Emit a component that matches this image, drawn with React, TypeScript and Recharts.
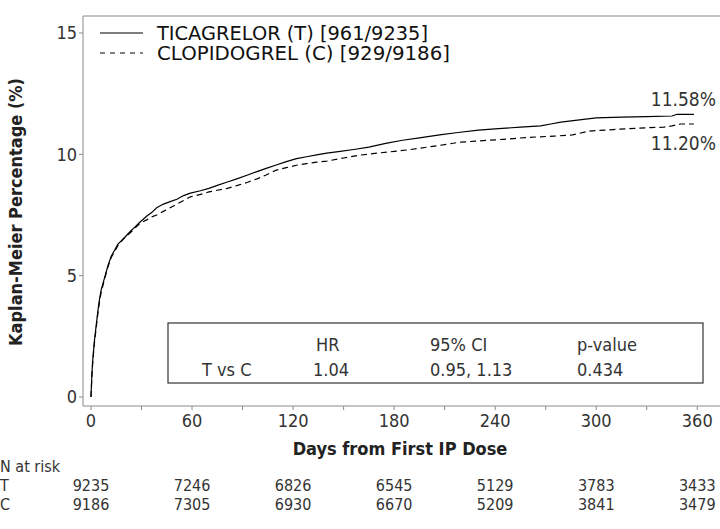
import React from 'react'
import { LineChart, Line, XAxis, YAxis, ReferenceLine } from 'recharts'

// Kaplan-Meier cumulative event % by day
const ticagrelor = [
  { day: 0, pct: 0 }, { day: 0.5, pct: 0.9 }, { day: 1, pct: 1.5 }, { day: 2, pct: 2.3 },
  { day: 3, pct: 2.9 }, { day: 4, pct: 3.5 }, { day: 5, pct: 4.0 }, { day: 6, pct: 4.4 },
  { day: 8, pct: 4.9 }, { day: 10, pct: 5.4 }, { day: 12, pct: 5.8 }, { day: 14, pct: 6.05 },
  { day: 16, pct: 6.3 }, { day: 19, pct: 6.5 }, { day: 23, pct: 6.8 }, { day: 26, pct: 7.0 },
  { day: 29, pct: 7.2 }, { day: 33, pct: 7.45 }, { day: 36, pct: 7.6 }, { day: 39, pct: 7.8 },
  { day: 43, pct: 7.95 }, { day: 47, pct: 8.05 }, { day: 51, pct: 8.15 }, { day: 55, pct: 8.3 },
  { day: 59, pct: 8.4 }, { day: 65, pct: 8.5 }, { day: 70, pct: 8.6 }, { day: 75, pct: 8.72 },
  { day: 81, pct: 8.86 }, { day: 87, pct: 9.0 }, { day: 93, pct: 9.15 }, { day: 99, pct: 9.3 },
  { day: 104, pct: 9.42 }, { day: 110, pct: 9.56 }, { day: 116, pct: 9.7 }, { day: 122, pct: 9.82 },
  { day: 128, pct: 9.9 }, { day: 134, pct: 9.98 }, { day: 140, pct: 10.05 }, { day: 148, pct: 10.12 },
  { day: 156, pct: 10.2 }, { day: 165, pct: 10.3 }, { day: 175, pct: 10.45 }, { day: 185, pct: 10.58 },
  { day: 195, pct: 10.68 }, { day: 207, pct: 10.8 }, { day: 218, pct: 10.9 }, { day: 230, pct: 11.0 },
  { day: 242, pct: 11.06 }, { day: 255, pct: 11.12 }, { day: 267, pct: 11.17 }, { day: 273, pct: 11.25 },
  { day: 279, pct: 11.33 }, { day: 290, pct: 11.42 }, { day: 300, pct: 11.5 }, { day: 315, pct: 11.53 },
  { day: 330, pct: 11.55 }, { day: 345, pct: 11.58 }, { day: 348, pct: 11.65 }, { day: 358, pct: 11.65 },
]

const clopidogrel = [
  { day: 0, pct: 0 }, { day: 0.5, pct: 0.8 }, { day: 1, pct: 1.4 }, { day: 2, pct: 2.2 },
  { day: 3, pct: 2.8 }, { day: 4, pct: 3.4 }, { day: 5, pct: 3.9 }, { day: 6, pct: 4.3 },
  { day: 8, pct: 4.85 }, { day: 10, pct: 5.35 }, { day: 12, pct: 5.75 }, { day: 14, pct: 6.0 },
  { day: 16, pct: 6.25 }, { day: 19, pct: 6.5 }, { day: 23, pct: 6.75 }, { day: 26, pct: 6.95 },
  { day: 29, pct: 7.15 }, { day: 33, pct: 7.3 }, { day: 36, pct: 7.42 }, { day: 39, pct: 7.5 },
  { day: 43, pct: 7.65 }, { day: 47, pct: 7.8 }, { day: 51, pct: 7.95 }, { day: 55, pct: 8.1 },
  { day: 59, pct: 8.25 }, { day: 65, pct: 8.35 }, { day: 70, pct: 8.45 }, { day: 75, pct: 8.52 },
  { day: 81, pct: 8.6 }, { day: 87, pct: 8.72 }, { day: 93, pct: 8.85 }, { day: 99, pct: 9.0 },
  { day: 104, pct: 9.15 }, { day: 110, pct: 9.35 }, { day: 116, pct: 9.45 }, { day: 122, pct: 9.55 },
  { day: 128, pct: 9.62 }, { day: 134, pct: 9.68 }, { day: 140, pct: 9.72 }, { day: 150, pct: 9.85 },
  { day: 160, pct: 9.97 }, { day: 170, pct: 10.05 }, { day: 180, pct: 10.12 }, { day: 190, pct: 10.2 },
  { day: 200, pct: 10.3 }, { day: 210, pct: 10.4 }, { day: 219, pct: 10.5 }, { day: 230, pct: 10.55 },
  { day: 245, pct: 10.62 }, { day: 260, pct: 10.7 }, { day: 275, pct: 10.75 }, { day: 286, pct: 10.8 },
  { day: 296, pct: 10.96 }, { day: 310, pct: 11.02 }, { day: 325, pct: 11.08 }, { day: 340, pct: 11.12 },
  { day: 345, pct: 11.17 }, { day: 350, pct: 11.25 }, { day: 358, pct: 11.25 },
]

const xTicks = [0, 30, 60, 90, 120, 150, 180, 210, 240, 270, 300, 330, 360]
const yTicks = [0, 5, 10, 15]
const riskDays = [0, 60, 120, 180, 240, 300, 360]
const riskT = [9235, 7246, 6826, 6545, 5129, 3783, 3433]
const riskC = [9186, 7305, 6930, 6670, 5209, 3841, 3479]
const legendLabels = ['TICAGRELOR (T) [961/9235]', 'CLOPIDOGREL (C) [929/9186]']
const statHeaders = ['HR', '95% CI', 'p-value']
const statValues = ['1.04', '0.95, 1.13', '0.434']
const endLabels = ['11.58%', '11.20%']

const W = 720
const H = 529
const X_MIN = -4.75
const X_MAX = 373.5
const PLOT_LEFT = 83
const PLOT_RIGHT = 720
const xPx = (d: number) => PLOT_LEFT + ((d - X_MIN) / (X_MAX - X_MIN)) * (PLOT_RIGHT - PLOT_LEFT)

const FONT = "'DejaVu Sans Condensed', 'Liberation Sans Narrow', sans-serif"
const AXIS = '#8a8a8a'
const TEXT = '#333'

const App = () => {
  return (
    <div style={{ position: 'absolute', left: 0, top: 0, width: W, height: H, background: '#fff' }}>
      <LineChart width={W} height={H} margin={{ top: 16, right: 0, left: 43, bottom: 93 }}>
        <XAxis
          type="number"
          dataKey="day"
          domain={[X_MIN, X_MAX]}
          ticks={xTicks}
          allowDataOverflow
          tickFormatter={(v: number) => (v % 60 === 0 ? String(v) : '')}
          tick={{ fill: TEXT, fontSize: 18, fontFamily: FONT }}
          stroke={AXIS}
          tickSize={4}
          tickMargin={4}
          height={30}
        />
        <YAxis
          type="number"
          domain={[-0.37, 15.7]}
          ticks={yTicks}
          allowDataOverflow
          tick={{ fill: TEXT, fontSize: 18, fontFamily: FONT }}
          stroke={AXIS}
          tickSize={4}
          tickMargin={2}
          width={40}
        />
        <ReferenceLine y={15.7} stroke={AXIS} strokeWidth={1.2} />
        <Line
          data={ticagrelor}
          dataKey="pct"
          type="linear"
          stroke="#000"
          strokeWidth={1.2}
          dot={false}
          isAnimationActive={false}
        />
        <Line
          data={clopidogrel}
          dataKey="pct"
          type="linear"
          stroke="#000"
          strokeWidth={1.2}
          strokeDasharray="6 4"
          dot={false}
          isAnimationActive={false}
        />
      </LineChart>

      <svg
        width={W}
        height={H}
        style={{ position: 'absolute', left: 0, top: 0, pointerEvents: 'none' }}
        fontFamily={FONT}
      >
        {/* legend */}
        <line x1={100} x2={143} y1={33} y2={33} stroke="#000" strokeWidth={1.2} />
        <line x1={100} x2={143} y1={53} y2={53} stroke="#000" strokeWidth={1.2} strokeDasharray="5 5" />
        <text x={157} y={40} fontSize={19} fontFamily="'DejaVu Sans', sans-serif" fill="#111"
          textLength={271} lengthAdjust="spacingAndGlyphs">{legendLabels[0]}</text>
        <text x={157} y={60} fontSize={19} fontFamily="'DejaVu Sans', sans-serif" fill="#111"
          textLength={293} lengthAdjust="spacingAndGlyphs">{legendLabels[1]}</text>

        {/* end-of-curve labels */}
        <text x={716} y={106} fontSize={19} fill={TEXT} textAnchor="end">{endLabels[0]}</text>
        <text x={716} y={150} fontSize={19} fill={TEXT} textAnchor="end">{endLabels[1]}</text>

        {/* stats box */}
        <rect x={168} y={323} width={535} height={60} fill="#fff" stroke="#333" strokeWidth={1.2} />
        {statHeaders.map((h, i) => (
          <text key={h} x={[316, 430, 577][i]} y={351} fontSize={18} fill={TEXT}>{h}</text>
        ))}
        <text x={202} y={376} fontSize={18} fill={TEXT}>T vs C</text>
        {statValues.map((v, i) => (
          <text key={v} x={[313, 430, 577][i]} y={376} fontSize={18} fill={TEXT}>{v}</text>
        ))}

        {/* axis titles */}
        <text x={400} y={455} fontSize={18} fontWeight="bold" fill="#222" textAnchor="middle">
          Days from First IP Dose
        </text>
        <text x={22} y={212} fontSize={18} fontWeight="bold" fill="#222" textAnchor="middle"
          transform="rotate(-90 22 212)">
          Kaplan-Meier Percentage (%)
        </text>

        {/* N at risk */}
        <text x={0} y={472} fontSize={16} fill={TEXT}>N at risk</text>
        <text x={0} y={491} fontSize={16} fill={TEXT}>T</text>
        <text x={0} y={510} fontSize={16} fill={TEXT}>C</text>
        {riskDays.map((d, i) => (
          <text key={'t' + d} x={xPx(d)} y={491} fontSize={16} fill={TEXT} textAnchor="middle">{riskT[i]}</text>
        ))}
        {riskDays.map((d, i) => (
          <text key={'c' + d} x={xPx(d)} y={510} fontSize={16} fill={TEXT} textAnchor="middle">{riskC[i]}</text>
        ))}
      </svg>
    </div>
  )
}

export default App
